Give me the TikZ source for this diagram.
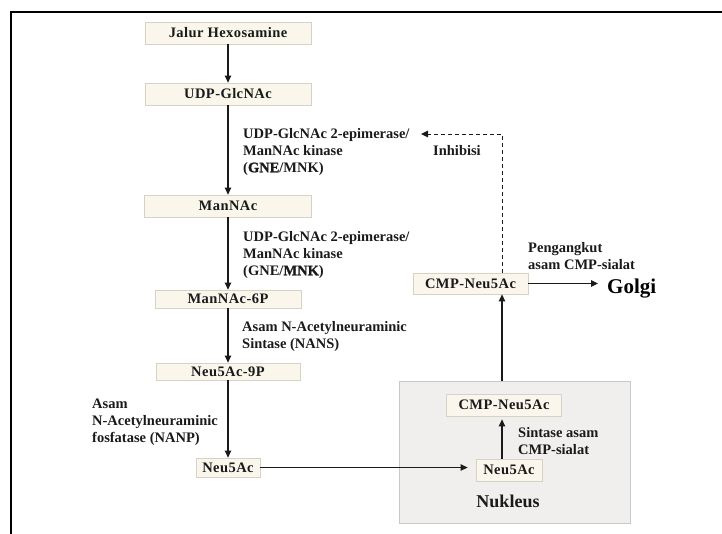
\documentclass[tikz,border=0pt]{standalone}
\usepackage{fontspec}
\setmainfont{Liberation Serif}
\newfontfamily\xbold{Liberation Serif}[BoldFeatures={FakeBold=1.2}]
\usetikzlibrary{arrows.meta}
\definecolor{boxfill}{HTML}{FAF6EC}
\definecolor{boxline}{HTML}{D6D2C6}
\definecolor{nucfill}{HTML}{F0EFEE}
\definecolor{nucline}{HTML}{C9C9C9}
\definecolor{ink}{HTML}{1A1A1A}
\begin{document}
\begin{tikzpicture}[x=1pt,y=-1pt,
  stepbox/.style={draw=boxline, fill=boxfill, line width=0.8pt, inner sep=0pt,
    font=\fontsize{14.5}{16}\selectfont\bfseries\addfontfeatures{LetterSpace=3}, text=ink},
  nucbox/.style={draw=nucline, fill=nucfill, line width=0.8pt, inner sep=0pt},
  lab/.style={font=\fontsize{14.5}{17}\selectfont\bfseries, align=left, inner sep=0pt, text=ink, anchor=north west},
  flow/.style={draw=ink, line width=1.1pt, -{Triangle[length=7pt,width=6.5pt]}},
  dashflow/.style={draw=ink, line width=1pt, dashed, dash pattern=on 4pt off 3pt, -{Triangle[length=7pt,width=6.5pt]}},
  frameline/.style={draw=black, line width=2.3pt}
]
\useasboundingbox (0,0) rectangle (722,533);
% frame
\coordinate (fbl) at (11,540);
\coordinate (ftl) at (11,12);
\coordinate (ftr) at (730,12);
\draw[frameline] (fbl) -- (ftl) -- (ftr);

% nucleus
\node[nucbox, minimum width=231, minimum height=142] (nuc) at (514.5,452) {};

% boxes
\node[stepbox, minimum width=166, minimum height=22] (jalur) at (228,33) {Jalur Hexosamine};
\node[stepbox, minimum width=166, minimum height=22] (udp) at (228,94) {UDP-GlcNAc};
\node[stepbox, minimum width=167, minimum height=22] (mannac) at (228,206) {ManNAc};
\node[stepbox, minimum width=146, minimum height=18] (m6p) at (228,299) {ManNAc-6P};
\node[stepbox, minimum width=144, minimum height=17] (nine) at (228,371.5) {Neu5Ac-9P};
\node[stepbox, minimum width=64, minimum height=19] (neu) at (228,467.5) {Neu5Ac};
\node[stepbox, minimum width=115, minimum height=22] (ncmp) at (504,405) {CMP-Neu5Ac};
\node[stepbox, minimum width=66, minimum height=22] (nneu) at (509,470) {Neu5Ac};
\node[stepbox, minimum width=115, minimum height=21] (ocmp) at (470.5,283.5) {CMP-Neu5Ac};

% labels
\node[lab] (l1) at (243,128) {UDP-GlcNAc 2-epimerase/\\ManNAc kinase\\({\xbold\bfseries GNE}/MNK)};
\node[lab] (l2) at (243,231) {UDP-GlcNAc 2-epimerase/\\ManNAc kinase\\(GNE/{\xbold\bfseries MNK})};
\node[lab] (l3) at (242,321) {Asam N-Acetylneuraminic\\Sintase (NANS)};
\node[lab] (l4) at (92,399) {Asam\\N-Acetylneuraminic\\fosfatase (NANP)};
\node[lab] (inh) at (433,145) {Inhibisi};
\node[lab] (peng) at (528,242) {Pengangkut\\asam CMP-sialat};
\node[lab] (sint) at (518,427) {Sintase asam\\CMP-sialat};
\node[font=\fontsize{21}{24}\selectfont\bfseries, text=black, anchor=base west, inner sep=0pt] (golgi) at (607,293) {Golgi};
\node[font=\fontsize{18}{21}\selectfont\bfseries, text=ink, anchor=base, inner sep=0pt] (nukl) at (508,507) {Nukleus};

% connectors
\draw[flow] (jalur) -- (udp);
\draw[flow] (udp) -- (mannac);
\draw[flow] (mannac) -- (m6p);
\draw[flow] (m6p) -- (nine);
\draw[flow] (nine) -- (neu);
\draw[flow, shorten >=8pt] (neu.east) -- (neu.east -| nneu.west);
\draw[flow, shorten >=3pt] ([xshift=-7pt]nneu.north) -- ([xshift=-7pt]nneu.north |- ncmp.south);
\draw[flow] ([xshift=-12.5pt]nuc.north) -- ([xshift=-12.5pt]nuc.north |- ocmp.south);
\draw[flow, shorten >=9pt] (ocmp.east) -- (ocmp.east -| golgi.west);
\coordinate (inhtip) at (421,134);
\draw[dashflow] ([xshift=31.5pt]ocmp.north) |- (inhtip);
\end{tikzpicture}
\end{document}
